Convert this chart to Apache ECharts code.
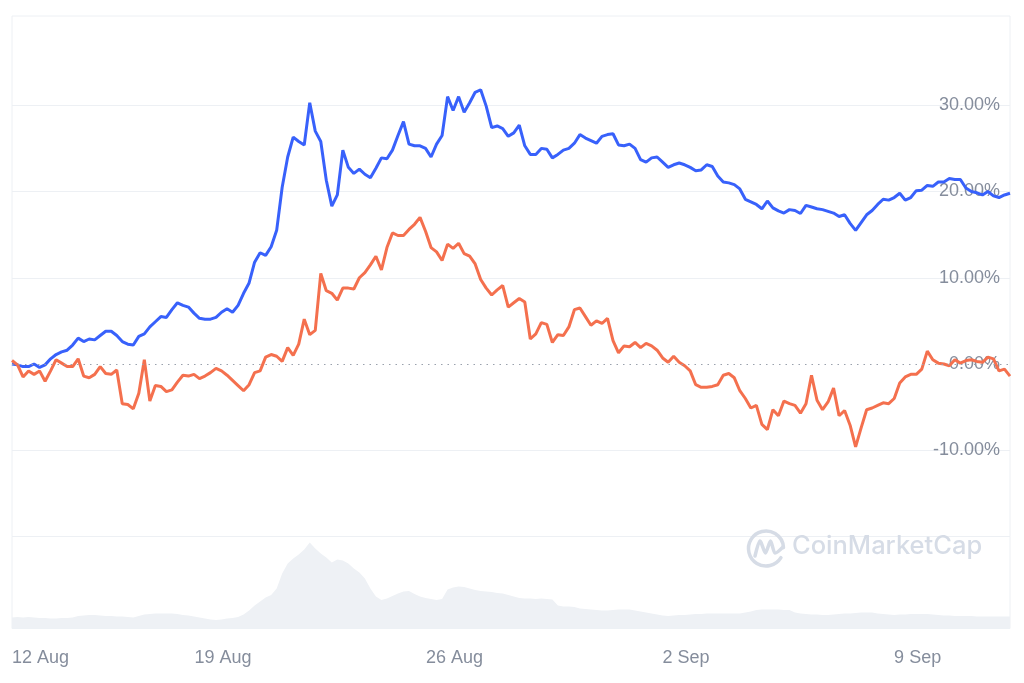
<!DOCTYPE html>
<html><head><meta charset="utf-8">
<script src="https://cdn.jsdelivr.net/npm/echarts@6/dist/echarts.min.js"></script>
<style>html,body{margin:0;padding:0;background:#fff}#c{width:1024px;height:683px}</style>
</head><body><div id="c"></div>
<script>
// time range of the chart (UTC)
const startTime = Date.UTC(2024, 7, 12, 15);
const endTime = Date.UTC(2024, 8, 11, 19);
const stepHours = 4;

// x tick labels
const xTickDates = [Date.UTC(2024, 7, 12, 15), Date.UTC(2024, 7, 19), Date.UTC(2024, 7, 26), Date.UTC(2024, 8, 2), Date.UTC(2024, 8, 9)];
const xTickLabels = ['12 Aug', '19 Aug', '26 Aug', '2 Sep', '9 Sep'];

// y tick values (%)
const yTickValues = [-10, 0, 10, 20, 30];

// blue series, % change, every 4 hours
const blueValues = [
0.0,-0.1,-0.3,-0.3,0.0,-0.4,-0.1,0.6,1.1,1.4,
1.6,2.2,3.0,2.6,2.9,2.8,3.3,3.8,3.8,3.3,
2.6,2.3,2.2,3.2,3.5,4.3,4.9,5.5,5.4,6.3,
7.1,6.8,6.6,5.9,5.3,5.2,5.2,5.4,6.0,6.4,
6.0,6.8,8.2,9.4,11.8,12.9,12.6,13.6,15.5,20.5,
24.0,26.3,25.8,25.4,30.3,27.0,25.8,21.3,18.3,19.6,
24.8,22.8,22.1,22.6,22.0,21.6,22.7,23.9,23.8,24.8,
26.5,28.1,25.5,25.3,25.3,25.0,24.0,25.5,26.5,31.0,
29.4,31.0,29.2,30.3,31.5,31.8,29.9,27.4,27.6,27.3,
26.4,26.8,27.7,25.3,24.3,24.3,25.0,24.9,23.9,24.3,
24.8,25.0,25.6,26.6,26.2,25.9,25.6,26.4,26.6,26.7,
25.4,25.3,25.5,25.0,23.7,23.4,23.9,24.0,23.4,22.8,
23.1,23.3,23.1,22.8,22.4,22.5,23.1,22.9,21.8,21.1,
21.0,20.8,20.3,19.1,18.8,18.5,18.0,18.9,18.1,17.75,
17.5,17.9,17.8,17.45,18.4,18.2,18.0,17.9,17.7,17.5,
17.1,17.3,16.3,15.5,16.4,17.3,17.8,18.5,19.1,19.0,
19.3,19.8,19.0,19.3,20.1,20.15,20.7,20.6,21.1,21.1,
21.5,21.4,21.4,20.4,20.0,19.85,19.6,20.0,19.5,19.3,
19.6,19.8
];

// orange series, % change, every 4 hours
const redValues = [
0.4,-0.1,-1.5,-0.8,-1.2,-0.8,-2.0,-0.8,0.5,0.1,
-0.3,-0.3,0.6,-1.4,-1.6,-1.2,-0.3,-1.1,-1.2,-0.7,
-4.6,-4.7,-5.2,-3.4,0.5,-4.3,-2.5,-2.6,-3.2,-3.0,
-2.1,-1.3,-1.4,-1.2,-1.7,-1.4,-1.0,-0.5,-0.8,-1.3,
-1.9,-2.5,-3.1,-2.4,-1.0,-0.8,0.8,1.1,0.9,0.3,
1.9,1.0,2.3,5.2,3.4,3.9,10.5,8.5,8.2,7.4,
8.8,8.8,8.7,10.0,10.6,11.5,12.5,10.9,13.5,15.2,
14.9,14.9,15.6,16.2,17.0,15.4,13.5,13.0,12.0,13.9,
13.4,14.0,12.8,12.5,11.6,9.8,8.8,8.0,8.6,9.1,
6.6,7.1,7.6,7.2,2.9,3.5,4.8,4.6,2.5,3.4,
3.3,4.3,6.3,6.5,5.5,4.5,5.0,4.7,5.3,2.7,
1.3,2.1,2.0,2.5,1.9,2.4,2.1,1.6,0.7,0.2,
0.9,0.2,-0.2,-0.8,-2.4,-2.7,-2.7,-2.6,-2.4,-1.3,
-1.1,-1.6,-3.1,-4.0,-5.1,-4.8,-7.0,-7.6,-5.3,-6.0,
-4.3,-4.6,-4.8,-5.7,-4.6,-1.3,-4.2,-5.3,-4.4,-2.8,
-6.0,-5.4,-7.1,-9.6,-7.4,-5.3,-5.1,-4.8,-4.5,-4.6,
-4.0,-2.2,-1.5,-1.2,-1.2,-0.6,1.5,0.5,0.1,0.0,
-0.2,0.5,0.1,0.4,0.5,0.3,0.2,0.8,0.6,-0.8,
-0.6,-1.4
];

// volume (relative units), every 4 hours
const volumeValues = [
11,11.5,11,11.5,11,10.5,10.5,10,10,10.5,
10.5,11,12.5,13,13.5,13.5,13,12.5,12.5,12,
12,11.5,11,12.5,14,14.5,15,15,15,15,
14.5,13.5,13,12,11,10,9,8.5,9,10,
10.5,11.5,14,18,23,27,31,33.5,40,55,
65,70,74,79,86,80,75,71,66,69,
68,65,60,56,50,40,32,28.5,30,32.5,
35,37,37.5,34.5,32,30.5,29.5,28.5,29.5,39,
41,42,41.5,40,38.5,37.5,37,36.5,35.5,35,
33.5,32,30.5,30,30,29.5,30,29.5,29,23,
22,22,21.5,20,19.5,19,18.5,18,18,18.5,
19,19,19,18,17,16,15,14,13,12.5,
13,13.5,13.5,14,14.5,14.5,15,15,15,15,
15,15,15,16,17,18.5,19,19,19,19,
18.5,18.5,16,15,14.5,14,14,13.5,13.5,14,
14.5,15,15,15.5,16,16,16,15,14.5,14,
13.5,14,14,14.5,14.5,14.5,14.5,14,13.5,13,
13,12.5,12.5,12.5,12.5,12,12,12,12,12,
12,12
];

// hours since start
const HOUR = 3600 * 1000;
const toHours = (t) => (t - startTime) / HOUR;
const xMax = toHours(endTime);
const xTickHours = xTickDates.map(toHours);
const hours = blueValues.map((_, i) => i * stepHours);
const pair = (arr) => arr.map((v, i) => [hours[i], v]);

const labelColor = '#858d9c';
const labelFont = '"Liberation Sans", Arial, sans-serif';
const gridColor = '#edf0f4';

const chart = echarts.init(document.getElementById('c'), null, {renderer: 'canvas'});
chart.setOption({
  animation: false,
  backgroundColor: '#ffffff',
  grid: [
    {left: 12, right: 14, top: 16, height: 520.5, show: true, borderColor: gridColor, borderWidth: 1, backgroundColor: 'transparent'},
    {left: 12, right: 14, top: 536.5, height: 92, show: true, borderColor: gridColor, borderWidth: 1, backgroundColor: 'transparent'}
  ],
  xAxis: [
    {type: 'value', gridIndex: 0, min: 0, max: xMax,
     axisLine: {show: false}, axisTick: {show: false}, axisLabel: {show: false}, splitLine: {show: false}},
    {type: 'value', gridIndex: 1, min: 0, max: xMax,
     axisLine: {show: false}, axisTick: {show: false, customValues: xTickHours}, splitLine: {show: false},
     axisLabel: {
       customValues: xTickHours,
       formatter: (v) => { const k = xTickHours.findIndex(d => Math.abs(d - v) < 0.01); return k >= 0 ? xTickLabels[k] : ''; },
       color: labelColor, fontSize: 18, fontFamily: labelFont, margin: 21,
       alignMinLabel: 'left', showMinLabel: true, hideOverlap: false
     }}
  ],
  yAxis: [
    {type: 'value', gridIndex: 0, position: 'right', min: -20, max: 40.35,
     axisLine: {show: false}, axisTick: {show: false, customValues: yTickValues},
     splitLine: {show: true, lineStyle: {color: [gridColor, 'rgba(0,0,0,0)', gridColor, gridColor, gridColor], width: 1}},
     axisLabel: {inside: true, margin: 10, customValues: yTickValues,
       formatter: (v) => Number(v).toFixed(2) + '%', color: labelColor, fontSize: 18, fontFamily: labelFont}},
    {type: 'value', gridIndex: 1, min: 0, max: 92, show: false, splitLine: {show: false}}
  ],
  graphic: [
    {type: 'arc', z: 1, shape: {cx: 766, cy: 548.5, r: 17.5, startAngle: 0.55, endAngle: Math.PI * 2 - 0.05, clockwise: true},
     style: {stroke: '#d6dce6', lineWidth: 3.5, fill: null, lineCap: 'round'}},
    {type: 'polyline', z: 1, shape: {points: [[755, 556], [760, 541], [765.5, 553], [770.5, 541], [775, 553], [783, 547]], smooth: 0.25},
     style: {stroke: '#d6dce6', lineWidth: 3.5, fill: null, lineCap: 'round', lineJoin: 'round'}},
    {type: 'text', z: 1, left: 792, top: 533,
     style: {text: 'CoinMarketCap', fill: '#d6dce6', fontSize: 25.5, fontWeight: 500, fontFamily: 'Inter, "Open Sans", sans-serif'}}
  ],
  series: [
    {type: 'line', name: 'volume', xAxisIndex: 1, yAxisIndex: 1, data: pair(volumeValues),
     showSymbol: false, silent: true, lineStyle: {width: 0}, areaStyle: {color: '#eef1f5', opacity: 1}, z: 1},
    {type: 'line', name: 'zero', xAxisIndex: 0, yAxisIndex: 0, data: [], silent: true, z: 1,
     markLine: {silent: true, symbol: ['none', 'none'], label: {show: false},
       lineStyle: {color: '#9aa1ad', width: 1.2, type: [1.5, 5]}, data: [{yAxis: 0}]}},
    {type: 'line', name: 'blue', xAxisIndex: 0, yAxisIndex: 0, data: pair(blueValues),
     showSymbol: false, lineStyle: {color: '#3861fb', width: 3}, itemStyle: {color: '#3861fb'}, z: 3},
    {type: 'line', name: 'orange', xAxisIndex: 0, yAxisIndex: 0, data: pair(redValues),
     showSymbol: false, lineStyle: {color: '#f4704e', width: 3}, itemStyle: {color: '#f4704e'}, z: 4}
  ]
});
</script>
</body></html>
